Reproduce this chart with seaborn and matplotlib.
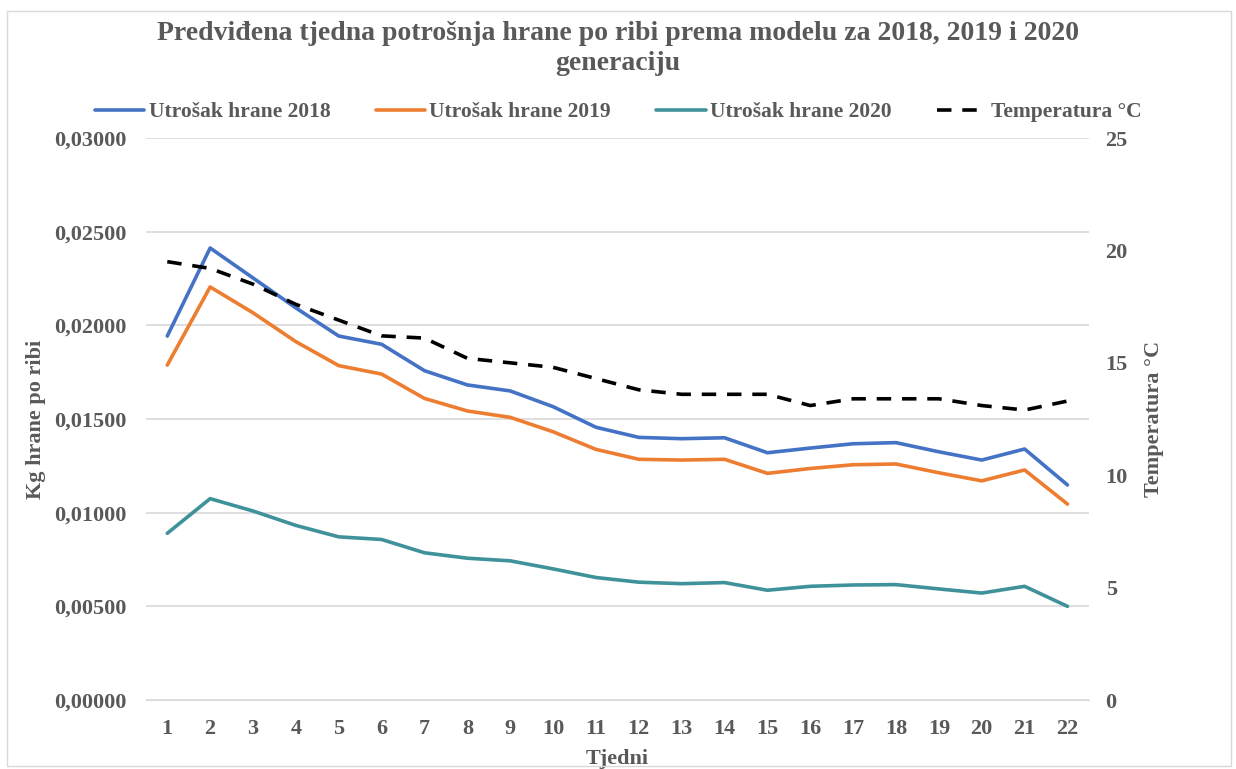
import matplotlib.pyplot as plt
import matplotlib.ticker as mticker
import numpy as np
import pandas as pd
import seaborn as sns

# weekly values
tjedni = list(range(1, 23))
hrana_2018 = [0.01943, 0.02413, 0.02253, 0.02093, 0.01943, 0.01899, 0.01758, 0.01682, 0.01650, 0.01566, 0.01456,
              0.01402, 0.01395, 0.01400, 0.01320, 0.01345, 0.01368, 0.01374, 0.01325, 0.01281, 0.01340, 0.01148]
hrana_2019 = [0.01788, 0.02205, 0.02067, 0.01913, 0.01785, 0.01740, 0.01610, 0.01543, 0.01509, 0.01432, 0.01338,
              0.01285, 0.01281, 0.01285, 0.01210, 0.01236, 0.01256, 0.01260, 0.01213, 0.01170, 0.01228, 0.01046]
hrana_2020 = [0.00890, 0.01075, 0.01009, 0.00932, 0.00871, 0.00857, 0.00786, 0.00757, 0.00743, 0.00700, 0.00654,
              0.00629, 0.00621, 0.00627, 0.00586, 0.00607, 0.00614, 0.00616, 0.00593, 0.00571, 0.00607, 0.00500]
temperatura = [19.5, 19.2, 18.5, 17.6, 16.9, 16.2, 16.1, 15.2, 15.0, 14.8, 14.3,
               13.8, 13.6, 13.6, 13.6, 13.1, 13.4, 13.4, 13.4, 13.1, 12.9, 13.3]

df = pd.DataFrame({'tjedan': tjedni, '2018': hrana_2018, '2019': hrana_2019, '2020': hrana_2020,
                   'temp': temperatura})

sns.set_style('white')
plt.rcParams['font.family'] = ['Liberation Serif', 'DejaVu Serif']
grey = '#595959'

fig = plt.figure(figsize=(12.36, 7.69), dpi=100)
ax = fig.add_axes([0.118, 0.0897, 0.763, 0.7308])
ax2 = ax.twinx()

sns.lineplot(data=df, x='tjedan', y='2018', ax=ax, color='#4472C4', lw=2.6, label='Utrošak hrane 2018', legend=False)
sns.lineplot(data=df, x='tjedan', y='2019', ax=ax, color='#ED7D31', lw=2.6, label='Utrošak hrane 2019', legend=False)
sns.lineplot(data=df, x='tjedan', y='2020', ax=ax, color='#40929A', lw=2.6, label='Utrošak hrane 2020', legend=False)
sns.lineplot(data=df, x='tjedan', y='temp', ax=ax2, color='black', lw=2.6, label='Temperatura °C', legend=False)
ax2.lines[0].set_dashes([4, 3])

ax.set_xlim(0.5, 22.5)
ax.set_ylim(0, 0.03)
ax2.set_ylim(0, 25)
ax.set_yticks(np.arange(0, 0.0301, 0.005))
ax2.set_yticks(range(0, 26, 5))
ax.set_xticks(tjedni)
ax.yaxis.set_major_formatter(mticker.FuncFormatter(lambda v, p: f'{v:.5f}'.replace('.', ',')))
ax.grid(axis='y', color='#D9D9D9', lw=1.2)
ax.set_axisbelow(True)

for a in (ax, ax2):
    for s in a.spines.values():
        s.set_visible(False)
    a.tick_params(length=0, labelsize=16, labelcolor=grey, pad=12)
    for t in a.get_xticklabels() + a.get_yticklabels():
        t.set_fontweight('bold')
ax.tick_params(axis='x', pad=14)
ax.tick_params(axis='y', pad=14)
ax.spines['bottom'].set_visible(True)
ax.spines['bottom'].set_color('#D9D9D9')

ax.set_xlabel('Tjedni', fontsize=16, fontweight='bold', color=grey, labelpad=7)
ax.set_ylabel('Kg hrane po ribi', fontsize=16, fontweight='bold', color=grey, labelpad=6)
ax2.set_ylabel('Temperatura °C', fontsize=16, fontweight='bold', color=grey, labelpad=12)

fig.text(0.5, 0.957, 'Predviđena tjedna potrošnja hrane po ribi prema modelu za 2018, 2019 i 2020',
         ha='center', va='center', fontsize=20, fontweight='bold', color=grey)
fig.text(0.5, 0.918, 'generaciju', ha='center', va='center', fontsize=20, fontweight='bold', color=grey)

handles = ax.get_lines()[:3] + ax2.get_lines()[:1]
labels = [h.get_label() for h in handles]
fig.legend(handles, labels, loc='center', bbox_to_anchor=(0.5, 0.854), ncol=4, frameon=False,
           prop={'size': 15.5, 'weight': 'bold'}, labelcolor=grey, handlelength=2.3, handletextpad=0.2,
           columnspacing=2.1)

fig.patches.append(plt.Rectangle((0.006, 0.004), 0.99, 0.982, transform=fig.transFigure, fill=False,
                                 edgecolor='#D9D9D9', lw=1))

fig.savefig('out.png', dpi=100)
